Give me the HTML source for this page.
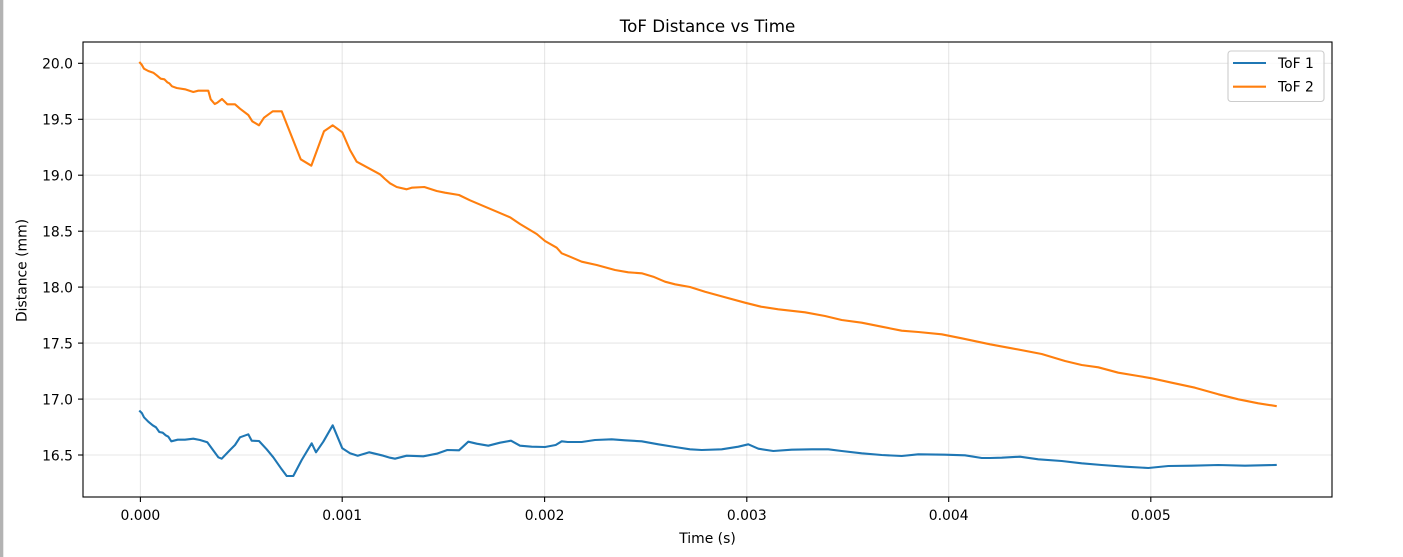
<!DOCTYPE html>
<html>
<head>
<meta charset="utf-8">
<style>
html,body{margin:0;padding:0;background:#fff;}
body{width:1403px;height:557px;overflow:hidden;}
svg{display:block;}
text{font-family:"DejaVu Sans","Liberation Sans",sans-serif;fill:#000;}
</style>
</head>
<body>
<svg width="1403" height="557" viewBox="0 0 1403 557" xmlns="http://www.w3.org/2000/svg">
  <rect x="0" y="0" width="1403" height="557" fill="#fff"/>
  <rect x="0" y="0" width="3.3" height="557" fill="#b3b3b3"/>

  <!-- grid -->
  <g stroke="#b0b0b0" stroke-opacity="0.3" stroke-width="1.1" fill="none">
    <line x1="140.4" y1="42" x2="140.4" y2="497"/>
    <line x1="342.2" y1="42" x2="342.2" y2="497"/>
    <line x1="544.6" y1="42" x2="544.6" y2="497"/>
    <line x1="746.8" y1="42" x2="746.8" y2="497"/>
    <line x1="948.7" y1="42" x2="948.7" y2="497"/>
    <line x1="1150.8" y1="42" x2="1150.8" y2="497"/>
    <line x1="83" y1="63.3" x2="1332" y2="63.3"/>
    <line x1="83" y1="119.3" x2="1332" y2="119.3"/>
    <line x1="83" y1="175.2" x2="1332" y2="175.2"/>
    <line x1="83" y1="231.2" x2="1332" y2="231.2"/>
    <line x1="83" y1="287.1" x2="1332" y2="287.1"/>
    <line x1="83" y1="343.1" x2="1332" y2="343.1"/>
    <line x1="83" y1="399.1" x2="1332" y2="399.1"/>
    <line x1="83" y1="455.0" x2="1332" y2="455.0"/>
  </g>

  <!-- series -->
  <polyline fill="none" stroke="#ff7f0e" stroke-width="2.1" stroke-linejoin="round" stroke-linecap="square"
    points="140,62.7 141.7,64.7 144,68.7 148.3,71 153.3,72.7 156.7,75.3 160.7,78.7 164.3,79.3 167.3,82.3 169.3,83.3 172,86.3 176.7,88 185,89.3 193.3,92 198.3,90.7 208.3,90.7 210.7,99.3 214.7,104 217.3,102.7 222,99 227.3,104.3 235,104.3 240,108.7 248.3,115 252.3,121.3 259,125.3 264,117.7 272.7,111.3 281.7,111.3 300.7,159.3 311.3,165.7 324,131.3 332.7,125.3 342.3,132.3 350,150 356.7,161.7 380,174.3 385,179 390,183.3 396.7,187 406.7,189.3 411.7,187.7 424.3,187 436.7,191 445,192.7 459,195 470,200.3 485,206.7 498.3,212.3 510,217.3 520,224 536.7,234 545,241 556.7,247.7 561.7,253.3 570,256.7 581.7,261.7 596.7,265 615,270 628.3,272.3 641.7,273.3 653.3,276.7 665,281.7 675,284.3 690,287 705,291.7 725,297.3 745,302.7 761,306.7 778.3,309.3 805,312.3 825,316 841.7,320 861.7,322.7 881.7,326.7 901.7,330.7 918.3,332 941.7,334.3 961.7,338.3 990,344.3 1011.7,348.3 1041.7,354 1065,361 1081.7,365 1098.3,367.3 1118.3,372.7 1138.3,376 1151.7,378.3 1171.7,382.7 1195,387.7 1218.3,394.3 1238.3,399.3 1258.3,403.3 1275.7,406"/>
  <polyline fill="none" stroke="#1f77b4" stroke-width="2.1" stroke-linejoin="round" stroke-linecap="square"
    points="140,411.3 142,413.3 144,417.3 148.3,421.7 152.7,425.3 156,427.3 159.3,432 162.7,432.7 165.7,435.3 168.3,436.7 171.3,441.3 177.7,439.7 185,439.7 193.3,438.7 200,440 207.3,442.3 218.3,457.3 221.7,458.7 230,450 235,445 240,437.3 248.3,434.3 251.7,440.7 259,441 266.7,449.3 273.3,457.3 281.7,469.3 286.7,476 293.3,476 301.7,460 311.7,443.3 316,452.3 323.3,441.7 332.7,425.3 342.3,448.3 350,453.3 357.7,455.7 369.3,452.3 383.3,455.7 390,457.7 395,458.7 406.7,455.7 423.3,456.3 436.7,453.7 447.3,450 459,450.3 468.3,441.7 476.7,443.7 488.3,445.7 500,442.7 511,440.7 520,445.7 531.7,446.7 545,447 555.7,445 561.7,441.3 567.7,442 581.7,442 595,440 611.7,439.3 625,440.3 641.7,441.3 658.3,444.3 675,447 690,449.3 701.7,450 721.7,449.3 738.3,446.7 748.3,444.3 758.3,448.7 773.3,451 791.7,449.7 811.7,449.3 828.3,449.3 841.7,451 861.7,453.3 881.7,455 901.7,456 918.3,454.3 945,454.7 965,455.3 981.7,458 990,458 1001.7,457.7 1020,456.7 1038.3,459.3 1061.7,461 1081.7,463.3 1101.7,465 1125,466.7 1148.3,468 1168.3,466 1191.7,465.7 1218.3,465 1245,465.7 1275.7,465"/>

  <!-- axes frame -->
  <rect x="83" y="42" width="1249" height="455" fill="none" stroke="#000" stroke-width="1.1"/>

  <!-- ticks -->
  <g stroke="#000" stroke-width="1.1">
    <line x1="140.4" y1="497" x2="140.4" y2="502"/>
    <line x1="342.2" y1="497" x2="342.2" y2="502"/>
    <line x1="544.6" y1="497" x2="544.6" y2="502"/>
    <line x1="746.8" y1="497" x2="746.8" y2="502"/>
    <line x1="948.7" y1="497" x2="948.7" y2="502"/>
    <line x1="1150.8" y1="497" x2="1150.8" y2="502"/>
    <line x1="78" y1="63.3" x2="83" y2="63.3"/>
    <line x1="78" y1="119.3" x2="83" y2="119.3"/>
    <line x1="78" y1="175.2" x2="83" y2="175.2"/>
    <line x1="78" y1="231.2" x2="83" y2="231.2"/>
    <line x1="78" y1="287.1" x2="83" y2="287.1"/>
    <line x1="78" y1="343.1" x2="83" y2="343.1"/>
    <line x1="78" y1="399.1" x2="83" y2="399.1"/>
    <line x1="78" y1="455.0" x2="83" y2="455.0"/>
  </g>

  <!-- tick labels -->
  <g font-size="13.9" text-anchor="middle">
    <text x="140.4" y="520">0.000</text>
    <text x="342.2" y="520">0.001</text>
    <text x="544.6" y="520">0.002</text>
    <text x="746.8" y="520">0.003</text>
    <text x="948.7" y="520">0.004</text>
    <text x="1150.8" y="520">0.005</text>
  </g>
  <g font-size="13.9" text-anchor="end">
    <text x="73" y="68.6">20.0</text>
    <text x="73" y="124.6">19.5</text>
    <text x="73" y="180.5">19.0</text>
    <text x="73" y="236.5">18.5</text>
    <text x="73" y="292.4">18.0</text>
    <text x="73" y="348.4">17.5</text>
    <text x="73" y="404.4">17.0</text>
    <text x="73" y="460.3">16.5</text>
  </g>

  <!-- labels -->
  <text x="707.5" y="32" font-size="16.7" text-anchor="middle">ToF Distance vs Time</text>
  <text x="707.5" y="543" font-size="13.9" text-anchor="middle">Time (s)</text>
  <text transform="translate(26.5,270.5) rotate(-90)" font-size="13.9" text-anchor="middle">Distance (mm)</text>

  <!-- legend -->
  <rect x="1228" y="51" width="96" height="50.5" rx="3" ry="3" fill="#fff" fill-opacity="0.8" stroke="#cccccc" stroke-width="1.1"/>
  <line x1="1233" y1="63" x2="1266" y2="63" stroke="#1f77b4" stroke-width="2.1"/>
  <line x1="1233" y1="86.7" x2="1266" y2="86.7" stroke="#ff7f0e" stroke-width="2.1"/>
  <text x="1278" y="68" font-size="13.9">ToF 1</text>
  <text x="1278" y="91.7" font-size="13.9">ToF 2</text>
</svg>
</body>
</html>
